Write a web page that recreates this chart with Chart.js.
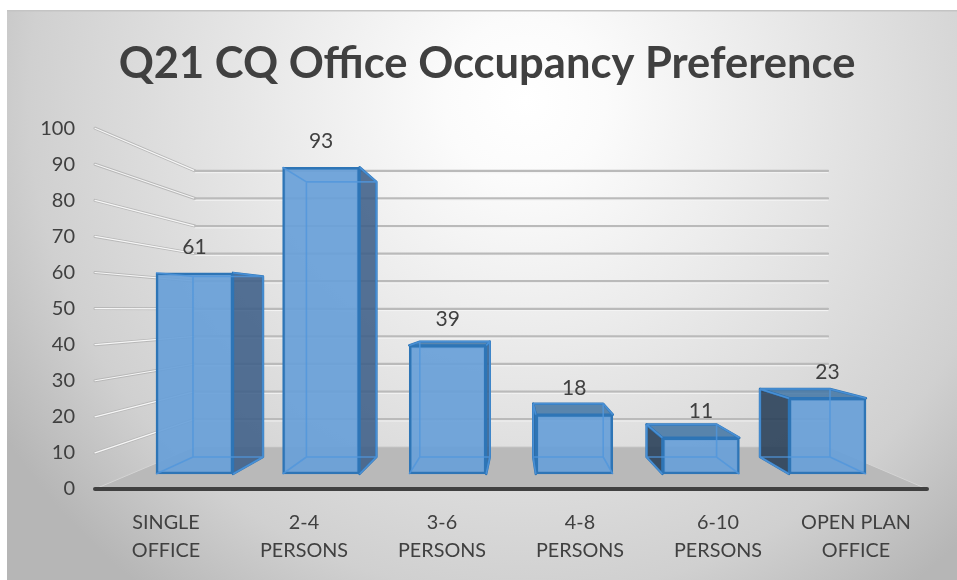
<!DOCTYPE html>
<html>
<head>
<meta charset="utf-8">
<style>html,body{margin:0;padding:0;background:#fff}canvas{display:block}</style>
<script src="https://cdn.jsdelivr.net/npm/chart.js@4"></script>
</head>
<body>
<canvas id="c" width="957" height="580"></canvas>
<script>
const titleText = 'Q21 CQ Office Occupancy Preference';
const categories = [['SINGLE','OFFICE'],['2-4','PERSONS'],['3-6','PERSONS'],['4-8','PERSONS'],['6-10','PERSONS'],['OPEN PLAN','OFFICE']];
const values = [61, 93, 39, 18, 11, 23];
const axisTicks = [0,10,20,30,40,50,60,70,80,90,100];

const AREA = {l:97, r:925, t:128, b:489};
// Perspective projections: each depth plane is a hidden scale, origin = pixel of value 0, step = pixels per unit
function xRange(o, s){ return {min:(AREA.l-o)/s, max:(AREA.r-o)/s}; }
function yRange(o, s){ return {min:(o-AREA.b)/s, max:(o-AREA.t)/s}; }
function hidden(axis, r){ return {type:'linear', axis, display:false, offset:false, beginAtZero:false, min:r.min, max:r.max, grid:{display:false}}; }

const BACK_RATIO = 70/77;
const plugin3d = {
  id:'plugin3d',
  beforeDraw(chart){
    const c = chart.ctx;
    c.save();
    c.fillStyle='#fff'; c.fillRect(0,0,957,580);
    const g = c.createRadialGradient(525,100,0,525,100,620);
    g.addColorStop(0,'#ffffff'); g.addColorStop(0.13,'#fbfbfb'); g.addColorStop(0.37,'#ececec');
    g.addColorStop(0.8,'#d0d0d0'); g.addColorStop(1,'#b6b6b6');
    c.fillStyle=g; c.fillRect(7,10,950,570);
    c.fillStyle='#c4c4c4'; c.fillRect(7,10,950,1.5);
    c.restore();
  },
  beforeDatasetsDraw(chart){
    const c = chart.ctx, s = chart.scales;
    const wl = s.xWall.getPixelForValue(0), wr = s.xWall.getPixelForValue(1);
    const fl = wl-100, fr = wr+99, fy = s.y.getPixelForValue(0), wy = s.yWall.getPixelForValue(0);
    c.save();
    // floor
    c.beginPath(); c.moveTo(fl,fy); c.lineTo(wl,wy); c.lineTo(wr,wy); c.lineTo(fr,fy); c.closePath();
    c.fillStyle='#b9b9b9'; c.fill();
    c.lineWidth=1; c.strokeStyle='#d4d4d4'; c.stroke();
    // gridlines on side wall and back wall
    c.lineCap='round';
    axisTicks.forEach(v=>{
      if(v===0) return;
      const ya = s.y.getPixelForValue(v), yb = s.yWall.getPixelForValue(v);
      c.beginPath(); c.moveTo(fl,ya); c.lineTo(wl,yb);
      c.strokeStyle='#b8b8b8'; c.lineWidth=3; c.stroke();
      c.beginPath(); c.moveTo(fl,ya); c.lineTo(wl,yb);
      c.strokeStyle='#f6f6f6'; c.lineWidth=1.2; c.stroke();
      c.beginPath(); c.moveTo(wl,yb); c.lineTo(wr,yb);
      c.strokeStyle='#bababa'; c.lineWidth=2.2; c.stroke();
      c.beginPath(); c.moveTo(wl,yb+1.8); c.lineTo(wr,yb+1.8);
      c.strokeStyle='#f4f4f4'; c.lineWidth=1; c.stroke();
    });
    c.beginPath(); c.moveTo(fl,fy); c.lineTo(fr,fy);
    c.strokeStyle='#404040'; c.lineWidth=4; c.stroke();
    // outer bar faces (top / side), behind the front face
    const meta = chart.getDatasetMeta(0);
    meta.data.forEach((bar,i)=>{
      const f = faces(chart, bar, i);
      c.lineJoin='round';
      quad(c,[f.fl,f.ft],[f.fl,f.fb],[f.bl,f.bb],[f.bl,f.bt], f.bl<f.fl?'rgba(39,62,86,0.88)':null);
      quad(c,[f.fr,f.ft],[f.fr,f.fb],[f.br,f.bb],[f.br,f.bt], f.br>f.fr?'rgba(62,95,135,0.88)':null);
      quad(c,[f.fl,f.ft],[f.fr,f.ft],[f.br,f.bt],[f.bl,f.bt], f.bt<f.ft?'rgba(70,120,165,0.88)':null);
    });
    c.restore();
  },
  afterDatasetsDraw(chart){
    const c = chart.ctx;
    const meta = chart.getDatasetMeta(0);
    c.save();
    meta.data.forEach((bar,i)=>{
      const f = faces(chart, bar, i);
      // inner edges seen through the translucent box
      c.strokeStyle='rgba(80,150,220,0.8)'; c.lineWidth=1.6;
      c.beginPath();
      c.moveTo(f.bl,f.bt); c.lineTo(f.bl,f.bb); c.lineTo(f.br,f.bb); c.lineTo(f.br,f.bt); c.lineTo(f.bl,f.bt);
      c.moveTo(f.fl,f.fb); c.lineTo(f.bl,f.bb);
      c.moveTo(f.fr,f.fb); c.lineTo(f.br,f.bb);
      c.moveTo(f.fl,f.ft); c.lineTo(f.bl,f.bt);
      c.moveTo(f.fr,f.ft); c.lineTo(f.br,f.bt);
      c.stroke();
      // value label
      c.fillStyle='#404040'; c.font='21px Lato'; c.textAlign='center'; c.textBaseline='middle';
      c.fillText(String(values[i]), bar.x, f.ft-26);
    });
    c.restore();
  }
};
function faces(chart, bar, i){
  const s = chart.scales;
  const hw = 77/2, bw = hw*BACK_RATIO;
  const cx = s.xBack.getPixelForValue(i);
  return {fl:bar.x-hw, fr:bar.x+hw, ft:bar.y, fb:bar.base,
          bl:cx-bw, br:cx+bw, bt:s.yBack.getPixelForValue(values[i]), bb:s.yBack.getPixelForValue(0)};
}
function quad(c,a,b,d,e,fill){
  c.beginPath(); c.moveTo(a[0],a[1]); c.lineTo(b[0],b[1]); c.lineTo(d[0],d[1]); c.lineTo(e[0],e[1]); c.closePath();
  if(fill){
    c.fillStyle=fill; c.fill();
    c.strokeStyle='#2e75b6'; c.lineWidth=2.4; c.stroke();
  }
}

new Chart(document.getElementById('c'),{
  type:'bar',
  data:{
    labels:categories,
    datasets:[{
      data:values.map((v,i)=>({x:i,y:v})),
      xAxisID:'xFront', yAxisID:'yFront',
      backgroundColor:'rgba(104,160,216,0.92)',
      borderColor:'#2e75b6', borderWidth:2.5, borderSkipped:false, barThickness:77
    }]
  },
  options:{
    responsive:false, animation:false,
    layout:{padding:{left:20,right:3,top:0,bottom:0}},
    plugins:{
      legend:{display:false}, tooltip:{enabled:false},
      title:{display:true,text:titleText,color:'#404040',
        font:{family:'Lato',size:43.5,weight:'bold',lineHeight:1.2},padding:{top:38,bottom:38}}
    },
    scales:{
      x:{type:'category',axis:'x',position:'bottom',offset:true,
        grid:{display:false},border:{display:false},
        ticks:{color:'#404040',font:{family:'Lato',size:19.8,lineHeight:1.45},padding:11,maxRotation:0,autoSkip:false},
        afterFit(s){s.height=91;}},
      y:{type:'linear',axis:'y',position:'left',min:0,max:100,
        grid:{display:false},border:{display:false},
        ticks:{stepSize:10,color:'#404040',font:{family:'Lato',size:20},padding:14,
          callback:v=>axisTicks.includes(v)?String(v):''},
        afterFit(s){s.width=77;}},
      yPad:{type:'linear',axis:'y',position:'right',min:0,max:1,
        grid:{display:false},border:{display:false},ticks:{display:false},
        afterFit(s){s.width=29;}},
      xFront:hidden('x',xRange(194.5,126.6)),
      yFront:hidden('y',yRange(474,3.3)),
      xBack:hidden('x',xRange(228,113.4)),
      yBack:hidden('y',yRange(457,2.96)),
      xWall:hidden('x',{min:(AREA.l-195)/633,max:(AREA.r-195)/633}),
      yWall:hidden('y',yRange(446.7,2.76))
    }
  },
  plugins:[plugin3d]
});
</script>
</body>
</html>
